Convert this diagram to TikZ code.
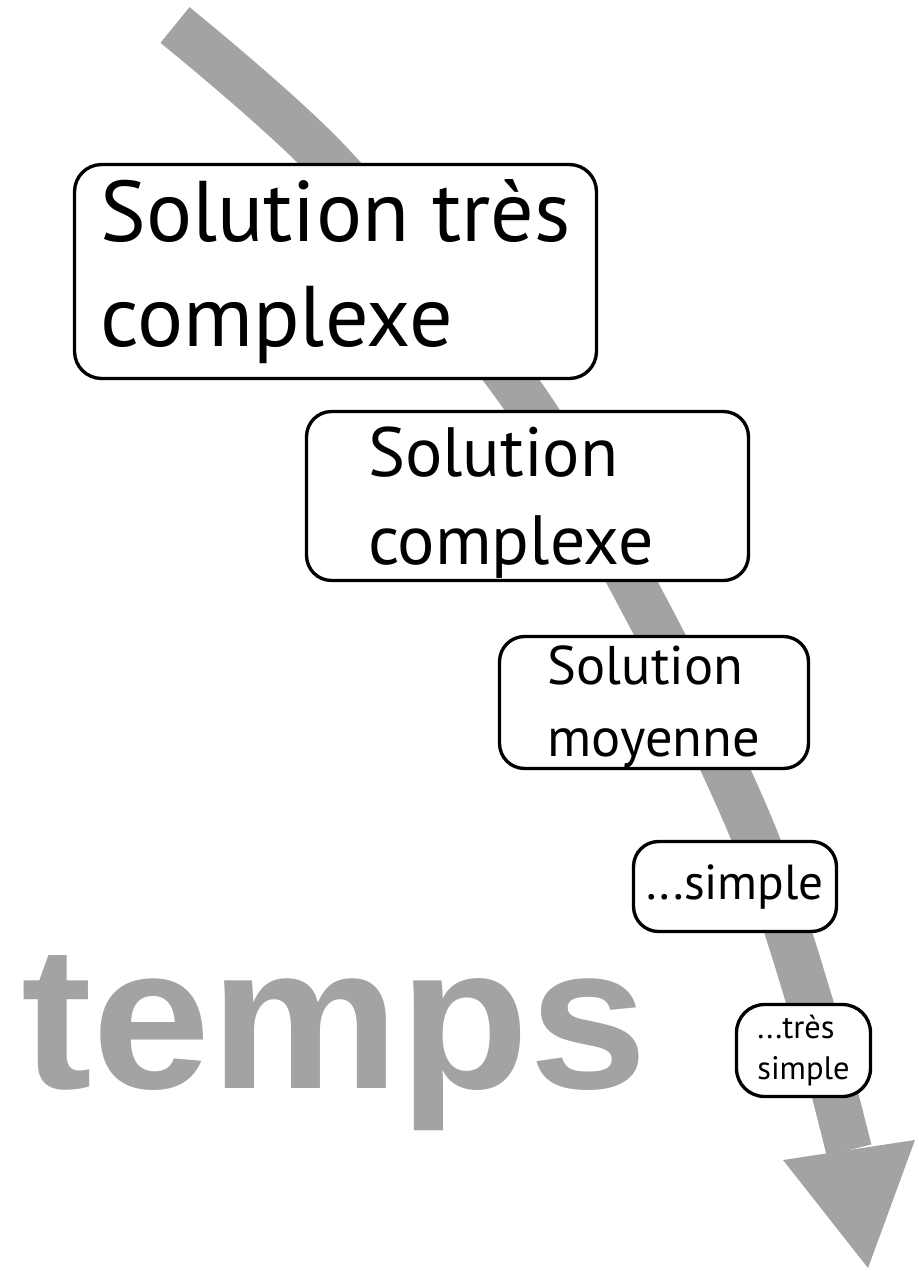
\documentclass[tikz,border=0pt]{standalone}
\usepackage{fontspec}
\setmainfont{PT Sans}
\newfontfamily\tempsfont{Liberation Sans}
\definecolor{timegray}{RGB}{163,163,163}
\tikzset{
  sol/.style={draw, fill=white, line width=1.9pt, rounded corners=#1,
    align=left, inner sep=0pt},
  sol/.default=0.5cm,
}

\begin{document}
\begin{tikzpicture}[x=0.02cm,y=-0.02cm]
  \useasboundingbox (0,0) rectangle (919,1271);

  %%%%% la fleche du temps %%%%%
  \draw[timegray, line width=0.92cm]
    plot[smooth] coordinates {(175,25) (330,163) (522,395) (652,620)
      (752,830) (810,1003) (849,1150)};
  \fill[timegray] (783,1160) -- (915,1140) -- (868,1268) -- cycle;

  \node[anchor=base west, inner sep=0pt, text=timegray, xscale=1.043, transform shape,
    font=\tempsfont\bfseries\fontsize{116}{116}\selectfont] (temps) at (21,1088) {temps};

  %%%%% les solutions %%%%%
  \node[sol=0.54cm, minimum width=10.44cm, minimum height=4.28cm,
    font=\fontsize{49}{59.5}\selectfont] (trescomplexe) at (335.5,271.5)
    {Solution très\\complexe};
  \node[sol, minimum width=8.84cm, minimum height=3.38cm, text width=6.38cm,
    font=\fontsize{39.7}{49.9}\selectfont] (complexe) at (527.5,496)
    {\rule{0pt}{36pt}Solution\\complexe};
  \node[sol, minimum width=6.18cm, minimum height=2.64cm,
    font=\fontsize{31}{40.8}\selectfont] (moyenne) at (654,702.5)
    {\rule{0pt}{27pt}Solution\\moyenne};
  \node[sol, minimum width=4.06cm, minimum height=1.8cm,
    font=\fontsize{28}{34}\selectfont] (simple) at (735,886.5)
    {...simple};
  \node[sol=0.56cm, minimum width=2.68cm, minimum height=1.84cm,
    font=\fontsize{18.5}{23.8}\selectfont] (tressimple) at (803.5,1050.5)
    {...très\\simple};
\end{tikzpicture}
\end{document}
